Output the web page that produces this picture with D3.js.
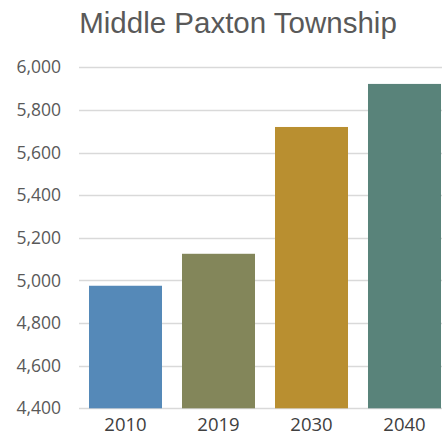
<!DOCTYPE html>
<html><head><meta charset="utf-8">
<script src="https://cdn.jsdelivr.net/npm/d3@7"></script>
<style>body{margin:0;background:#fff}svg{display:block}</style>
</head><body><div id="chart"></div>
<script>
const categories = ["2010", "2019", "2030", "2040"];
const values = [4975, 5125, 5720, 5922];
const colors = ["#5589b8", "#83865a", "#b98f30", "#59837a"];
const yTicks = [4400, 4600, 4800, 5000, 5200, 5400, 5600, 5800, 6000];
const title = "Middle Paxton Township";

const W = 442, H = 437;
const svg = d3.select("#chart").append("svg").attr("width", W).attr("height", H);

const x = d3.scaleBand().domain(categories).range([79, 451]).paddingInner(0.215).paddingOuter(0.1075);
const y = d3.scaleLinear().domain([4400, 6000]).range([408.3, 67.3]);

svg.append("text").attr("x", 238).attr("y", 33).attr("text-anchor", "middle")
  .attr("font-family", "'Liberation Sans', 'DejaVu Sans', sans-serif").attr("font-size", 29.5)
  .attr("fill", "#595959").text(title);

const grid = svg.append("g");
grid.selectAll("line").data(yTicks).join("line")
  .attr("x1", 79).attr("x2", 442)
  .attr("y1", d => Math.round(y(d)) + 0.5).attr("y2", d => Math.round(y(d)) + 0.5)
  .attr("stroke", "#d9d9d9").attr("stroke-width", 1.3);

const yAxis = d3.axisLeft(y).tickValues(yTicks).tickFormat(d3.format(",")).tickSize(0).tickPadding(0);
const ya = svg.append("g").attr("transform", "translate(61,0)").call(yAxis);
ya.select(".domain").remove();
ya.selectAll("text").attr("font-family", "'Open Sans', 'DejaVu Sans', sans-serif").attr("font-size", 17.5).attr("fill", "#595959");

svg.append("g").selectAll("rect").data(values).join("rect")
  .attr("x", (d, i) => x(categories[i])).attr("width", x.bandwidth())
  .attr("y", d => y(d)).attr("height", d => y(4400) - y(d))
  .attr("fill", (d, i) => colors[i]);

const xAxis = d3.axisBottom(x).tickSize(0).tickPadding(0);
const xa = svg.append("g").attr("transform", "translate(0,0)").call(xAxis);
xa.select(".domain").remove();
xa.selectAll("text").attr("dy", null).attr("y", 431).attr("font-family", "'Open Sans', 'DejaVu Sans', sans-serif").attr("font-size", 18.5).attr("fill", "#404040");
</script></body></html>
